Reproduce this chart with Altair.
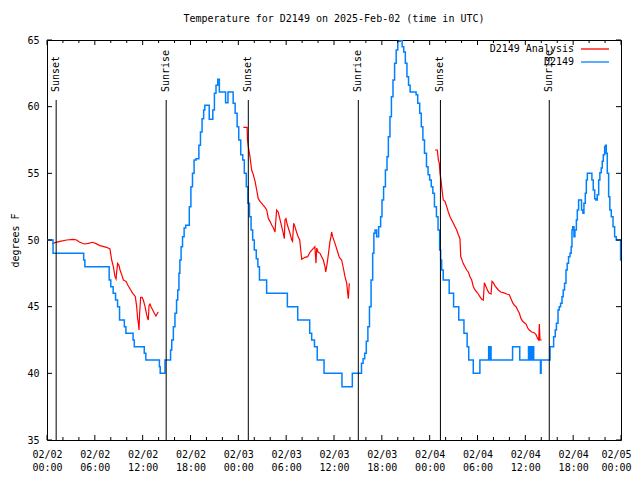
import altair as alt
import pandas as pd

FONT = "DejaVu Sans Mono"
W, H = 574, 400
START = pd.Timestamp("2025-02-02T00:00:00")
TITLE = "Temperature for D2149 on 2025-Feb-02 (time in UTC)"

# ---- observed D2149 (hours after 02/02 00:00 UTC, step starts) ----
obs_hours = [
    0.0, 0.76, 4.6, 4.75, 7.8, 8.0, 8.3, 8.6, 8.85, 9.1, 9.7, 9.9, 10.8, 10.95, 12.2, 12.4, 14.1, 14.2, 14.8,
    15.5, 15.65, 15.85, 16.05, 16.25, 16.4, 16.55, 16.67, 16.82, 17.0, 17.2, 17.4, 17.85, 18.05, 18.25, 18.45,
    18.7, 19.05, 19.25, 19.45, 19.65, 19.8, 20.35, 20.8, 21.0, 21.2, 21.42, 21.62, 22.4, 22.7, 23.35, 23.6,
    23.85, 24.05, 24.3, 24.55, 24.75, 25.0, 25.2, 25.4, 25.6, 25.8, 26.0, 26.25, 26.45, 26.65,
    27.55, 30.15, 31.45, 32.95, 33.2, 33.55, 33.9, 34.75, 37.0, 38.3,
    39.45, 39.65, 39.85, 40.05, 40.25, 40.45, 40.65, 40.85, 41.0, 41.15, 41.35, 41.6, 41.85, 42.02, 42.22,
    42.45, 42.65, 42.82, 43.02, 43.2, 43.4, 43.6, 43.8, 44.0, 44.3, 44.55, 44.75, 44.95, 45.15, 45.35, 45.55,
    46.3, 46.5, 46.75, 46.95, 47.15, 47.35, 47.6, 47.8, 48.0, 48.2, 48.4, 48.6, 48.85, 49.05, 49.25, 49.38,
    49.5, 49.7,
    50.45, 51.0, 51.65, 52.3, 52.7, 52.9, 53.47, 54.3, 55.4, 55.5, 55.6, 55.7, 58.4, 59.3, 60.4, 60.5, 60.65,
    60.75, 60.9, 61.05, 61.9, 61.98, 63.1,
    63.55, 63.75, 63.9, 64.1, 64.25, 64.42, 64.6, 64.75, 64.92, 65.1, 65.25, 65.42, 65.6, 65.75, 65.85, 65.95,
    66.1, 66.22, 66.4, 66.52, 66.68, 67.05, 67.22, 67.35, 67.52, 67.65, 67.78, 68.35, 68.52, 68.7, 68.85,
    69.02, 69.2, 69.35, 69.52, 69.65, 69.78, 69.95, 70.05, 70.15, 70.28, 70.45, 70.6, 70.78, 71.0, 71.2,
    71.4, 71.95, 72.0,
]
obs_degF = [
    50, 49, 48.5, 48, 47, 46.5, 46, 45.5, 45, 44, 43.5, 43, 42.5, 42, 41.5, 41, 40.5, 40, 41,
    41.75, 42.5, 43.5, 44.5, 45.5, 46.25, 47.5, 48.5, 49.5, 50.25, 50.9, 51.1, 52.5, 54.0, 55.0, 56.0,
    56.1, 57.1, 58.1, 59.1, 59.75, 60.1, 59.05, 59.75, 61.0, 61.6, 62.05, 61.1, 60.3, 61.1, 60.25, 59.5,
    58.5, 57.5, 56.4, 56.0, 55.0, 54.0, 52.75, 51.75, 50.75, 50.0, 49.25, 48.6, 48.0, 47.0,
    46, 45, 44, 43, 42.5, 42, 41, 40, 39, 40,
    40.75, 41.1, 41.5, 42.4, 43.5, 45.0, 47.0, 49.0, 50.5, 50.75, 50.25, 51.0, 51.75, 53.0, 54.0,
    55.25, 56.25, 57.75, 59.25, 60.75, 62.0, 63.25, 64.25, 64.9, 65.0, 64.5, 64.1, 63.25, 62.25, 61.6, 61.1,
    60.9, 60.25, 59.5, 58.5, 57.5, 56.5, 55.5, 54.9, 54.5, 54.0, 53.5, 52.5, 51.75, 50.75, 49.25, 48.5,
    47.75, 47.0,
    46, 45, 44, 43, 42, 41, 40, 41, 42, 41, 42, 41, 42, 41, 42, 41, 42,
    41, 42, 41, 40, 41, 42,
    42.75, 43.25, 43.75, 44.75, 45.0, 45.25, 45.75, 46.25, 46.75, 47.75, 48.25, 48.75, 49.0, 49.5, 50.75, 51.0,
    50.25, 50.75, 51.5, 52.25, 53.0, 52.25, 52.0, 52.75, 53.5, 54.5, 55.0, 54.5, 53.75, 53.1, 53.0,
    53.4, 54.5, 55.05, 55.4, 55.9, 56.4, 57.0, 57.1, 56.5, 55.0, 53.25, 52.25, 51.75, 51.0, 50.25,
    50.0, 48.5, 48.5,
]

# ---- D2149 Analysis, three runs ----
ana1_hours = [0.67, 1.63, 2.47, 3.3, 3.72, 4.05, 4.68, 5.19, 5.73, 6.15, 6.65, 7.48, 7.9, 8.11, 8.32, 8.53,
              8.66, 8.74, 8.86, 9.03, 9.16, 9.37, 9.58, 9.91, 10.2, 10.5, 10.75, 10.9, 11.08, 11.25, 11.37,
              11.46, 11.54, 11.62, 11.75, 11.92, 12.08, 12.3, 12.5, 12.63, 12.71, 12.8, 12.92, 13.05, 13.26,
              13.46, 13.67, 13.84, 13.96]
ana1_degF = [49.75, 49.9, 50.0, 50.05, 50.0, 49.85, 49.7, 49.75, 49.83, 49.73, 49.58, 49.45, 49.33, 48.5,
             48.0, 47.25, 47.08, 47.6, 48.25, 48.1, 47.75, 47.4, 47.0, 46.9, 46.55, 46.25, 46.0, 45.9, 45.75,
             45.0, 44.1, 43.75, 43.25, 44.5, 45.7, 45.7, 45.5, 45.0, 44.4, 44.1, 44.0, 45.1, 45.2, 45.0,
             44.75, 44.5, 44.3, 44.5, 44.6]
ana2_hours = [24.63, 25.1, 25.15, 25.25, 25.46, 25.67, 25.88, 26.1, 26.3, 26.5, 26.72, 26.93, 27.14, 27.35,
              27.56, 27.77, 27.97, 28.2, 28.4, 28.6, 28.8, 29.0, 29.2, 29.4, 29.64, 29.77, 29.85, 29.98, 30.1,
              30.27, 30.48, 30.7, 30.8, 30.94, 31.1, 31.3, 31.5, 31.7, 31.95, 32.36, 32.7, 33.0, 33.3, 33.6,
              33.74, 33.83, 34.0, 34.24, 34.45, 34.66, 34.87, 34.96, 35.08, 35.2, 35.33, 35.5, 35.62, 35.7,
              35.83, 36.04, 36.25, 36.46, 36.67, 36.96, 37.17, 37.38, 37.6, 37.7, 37.8, 37.88, 37.92]
ana2_degF = [58.45, 58.45, 57.5, 57.0, 56.25, 55.25, 54.9, 54.4, 53.75, 53.1, 52.9, 52.75, 52.6, 52.45,
             52.25, 51.6, 51.4, 51.1, 50.9, 50.6, 52.25, 52.1, 51.6, 51.1, 50.5, 50.1, 51.5, 51.6, 51.25,
             50.9, 50.5, 50.0, 49.9, 51.25, 51.0, 50.6, 50.25, 50.0, 48.55, 48.7, 48.75, 49.1, 49.3, 49.5,
             48.25, 49.4, 49.1, 49.0, 48.75, 48.5, 48.0, 47.6, 48.0, 48.5, 49.1, 49.9, 50.25, 50.6,
             50.25, 49.9, 49.5, 49.1, 48.7, 48.5, 47.9, 47.25, 46.75, 46.1, 45.6, 46.4, 46.75]
ana3_hours = [48.67, 48.96, 49.09, 49.21, 49.3, 49.42, 49.55, 49.71, 49.92, 50.14, 50.34, 50.55, 50.76,
              50.97, 51.18, 51.39, 51.6, 51.8, 51.9, 52.0, 52.2, 52.43, 52.65, 52.85, 53.06, 53.27, 53.48,
              53.69, 53.9, 54.1, 54.3, 54.53, 54.73, 54.86, 55.07, 55.28, 55.48, 55.7, 55.82, 55.99, 56.2,
              56.41, 56.62, 56.9, 57.24, 57.66, 57.99, 58.2, 58.41, 58.62, 58.83, 59.04, 59.25, 59.46,
              59.67, 59.88, 60.09, 60.3, 60.5, 60.8, 61.09, 61.34, 61.55, 61.68, 61.76, 61.84, 62.05]
ana3_degF = [56.75, 56.75, 56.0, 55.75, 55.0, 54.5, 53.75, 53.0, 52.9, 52.5, 52.1, 51.75, 51.5, 51.25,
             51.0, 50.75, 50.4, 50.1, 48.75, 48.6, 48.25, 48.0, 47.75, 47.6, 47.25, 47.0, 46.5, 46.25,
             46.1, 45.95, 45.75, 45.55, 45.5, 46.8, 46.5, 46.2, 46.0, 45.95, 46.9, 46.8, 46.55, 46.4,
             46.25, 46.1, 46.05, 45.95, 45.9, 45.6, 45.3, 45.1, 45.0, 44.75, 44.5, 44.1, 43.9, 43.8,
             43.7, 43.4, 43.25, 43.1, 43.05, 42.9, 42.6, 42.5, 43.7, 42.5, 42.5]

# ---- sun events, ticks, legend ----
sun_hours = [1.15, 14.95, 25.25, 39.05, 49.35, 63.0]
sun_labels = ["Sunset", "Sunrise", "Sunset", "Sunrise", "Sunset", "Sunrise"]
label_hours = list(range(0, 73, 6))
minor_hours = [h for h in range(0, 73, 2) if h % 6]
y_ticks = [35, 40, 45, 50, 55, 60, 65]
series_names = ["D2149 Analysis", "D2149"]
series_colors = ["#ff0000", "#0080ff"]


def iso(h):
    return (START + pd.Timedelta(hours=h)).strftime("%Y-%m-%dT%H:%M:%SZ")


def ms(h):
    return int((START + pd.Timedelta(hours=h)).value // 10**6)


obs_df = pd.DataFrame({"time": [iso(h) for h in obs_hours], "degF": obs_degF})
ana_rows = []
for run, (hs, vs) in enumerate([(ana1_hours, ana1_degF), (ana2_hours, ana2_degF), (ana3_hours, ana3_degF)]):
    for h, v in zip(hs, vs):
        ana_rows.append({"time": iso(h), "degF": v, "run": run})
ana_df = pd.DataFrame(ana_rows)
sun_df = pd.DataFrame({"time": [iso(h) for h in sun_hours], "label": sun_labels})
major_df = pd.DataFrame({"time": [iso(h) for h in label_hours]})
minor_df = pd.DataFrame({"time": [iso(h) for h in minor_hours]})
ytick_df = pd.DataFrame({"degF": y_ticks})
legend_df = pd.DataFrame({"name": series_names})

x_scale = alt.Scale(type="utc", domain=[ms(0), ms(72)])
x_axis = alt.Axis(
    values=[ms(h) for h in label_hours],
    labelExpr="[utcFormat(datum.value, '%m/%d'), utcFormat(datum.value, '%H:%M')]",
    title=None, grid=False, ticks=False, tickSize=0, domain=False,
    labelFont=FONT, labelFontSize=10, labelColor="black", labelPadding=9,
    labelLineHeight=13, labelOverlap=False, labelFlush=False, labelBaseline="top",
    labelOffset={"condition": {"test": f"datum.value >= {ms(72)}", "value": -5}, "value": 0},
)
y_scale = alt.Scale(domain=[35, 65], nice=False, zero=False)
y_axis = alt.Axis(
    values=y_ticks, title="degrees F", grid=False, ticks=False, tickSize=0, domain=False,
    labelFont=FONT, labelFontSize=10, labelColor="black", labelPadding=8,
    titleFont=FONT, titleFontSize=10, titleFontWeight="normal", titleColor="black",
    titleAngle=270, titleAlign="center", titleBaseline="middle", titleX=-32, titleY=200,
)


def X():
    return alt.X("time:T", scale=x_scale, axis=x_axis)


def Y():
    return alt.Y("degF:Q", scale=y_scale, axis=y_axis)


analysis = alt.Chart(ana_df).mark_line(color=series_colors[0], strokeWidth=1.2, clip=True).encode(
    x=X(), y=Y(), detail="run:N")
observed = alt.Chart(obs_df).mark_line(color=series_colors[1], strokeWidth=1.5, interpolate="step-after",
                                       clip=True).encode(x=X(), y=Y())
sun_rules = alt.Chart(sun_df).mark_rule(color="black", strokeWidth=1).encode(
    x=X(), y=alt.value(60), y2=alt.value(H))
sun_text = alt.Chart(sun_df).mark_text(angle=270, align="left", baseline="middle", font=FONT,
                                       fontSize=10, color="black").encode(
    x=X(), y=alt.value(52), text="label:N")

bt_major = alt.Chart(major_df).mark_rule(color="black").encode(x=X(), y=alt.value(H), y2=alt.value(H - 5))
bt_minor = alt.Chart(minor_df).mark_rule(color="black").encode(x=X(), y=alt.value(H), y2=alt.value(H - 3))
tp_major = alt.Chart(major_df).mark_rule(color="black").encode(x=X(), y=alt.value(0), y2=alt.value(5))
tp_minor = alt.Chart(minor_df).mark_rule(color="black").encode(x=X(), y=alt.value(0), y2=alt.value(3))
lt = alt.Chart(ytick_df).mark_rule(color="black").encode(y=Y(), x=alt.value(0), x2=alt.value(5))
rt = alt.Chart(ytick_df).mark_rule(color="black").encode(y=Y(), x=alt.value(W), x2=alt.value(W - 5))

main = alt.layer(analysis, observed, sun_rules, sun_text, bt_major, bt_minor, tp_major, tp_minor, lt, rt)

leg_y = alt.Y("name:N", scale=alt.Scale(type="point", domain=series_names, range=[9, 22], padding=0),
              axis=None)
leg_text = alt.Chart(legend_df).mark_text(align="right", baseline="middle", font=FONT, fontSize=10,
                                          color="black").encode(y=leg_y, x=alt.value(527), text="name:N")
leg_line = alt.Chart(legend_df).mark_rule(strokeWidth=1.3).encode(
    y=leg_y, x=alt.value(534), x2=alt.value(562),
    color=alt.Color("name:N", scale=alt.Scale(domain=series_names, range=series_colors), legend=None))
legend = alt.layer(leg_text, leg_line)

chart = alt.layer(main, legend).resolve_scale(y="independent", color="independent").properties(
    width=W, height=H,
    title=alt.TitleParams(TITLE, font=FONT, fontSize=10, fontWeight="normal", color="black",
                          anchor="middle", offset=11),
    padding={"left": 39, "top": 32, "right": 11, "bottom": 32},
    autosize=alt.AutoSizeParams(type="none"),
).configure_view(stroke="black", strokeWidth=1)

chart.save("out.html", embed_options={"renderer": "svg", "actions": False})
